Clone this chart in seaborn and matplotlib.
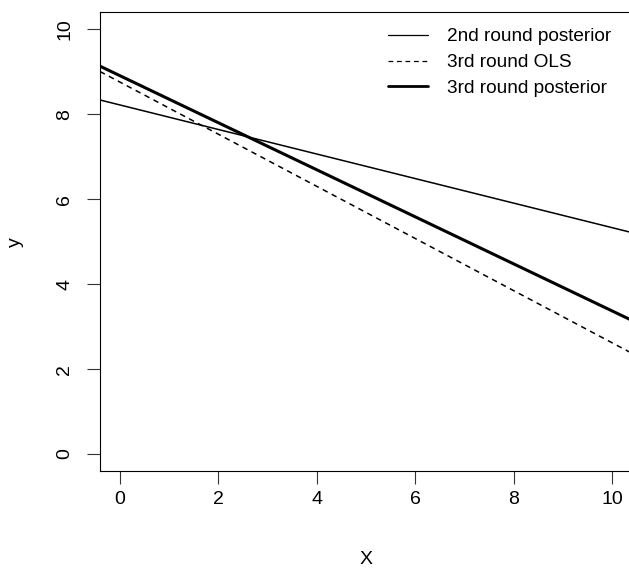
import matplotlib
matplotlib.use("Agg")
import matplotlib.pyplot as plt
import seaborn as sns
import numpy as np
import pandas as pd
from matplotlib.lines import Line2D

# Fitted regression lines: y = intercept + slope * x
labels = ["2nd round posterior", "3rd round OLS", "3rd round posterior"]
intercepts = [8.22, 8.76, 8.91]
slopes = [-0.289, -0.614, -0.554]

x_ticks = [0, 2, 4, 6, 8, 10]
y_ticks = [0, 2, 4, 6, 8, 10]
x_lim = (-0.4, 10.4)
y_lim = (-0.4, 10.4)

sns.set_style("ticks")
plt.rcParams["font.family"] = ["Liberation Sans", "DejaVu Sans"]
plt.rcParams["font.size"] = 13.7
plt.rcParams["text.color"] = "black"
plt.rcParams["axes.labelcolor"] = "black"
plt.rcParams["xtick.color"] = "black"
plt.rcParams["ytick.color"] = "black"

rows = []
for lab, a, b in zip(labels, intercepts, slopes):
    for xv in x_lim:
        rows.append({"X": xv, "y": a + b * xv, "line": lab})
df = pd.DataFrame(rows)

W, H = 629, 569
fig = plt.figure(figsize=(W / 100, H / 100), dpi=100)
left, right, top, bottom = 100, 631.7, 12.3, 471
ax = fig.add_axes([left / W, 1 - bottom / H, (right - left) / W, (bottom - top) / H])

sns.lineplot(
    data=df, x="X", y="y", hue="line", style="line",
    hue_order=labels, style_order=labels,
    palette=["black", "black", "black"],
    dashes={labels[0]: "", labels[1]: (3.6, 3.0), labels[2]: ""},
    ax=ax, legend=False,
)
widths = [1.1, 1.1, 2.2]
for ln, w in zip(ax.get_lines(), widths):
    ln.set_linewidth(w)

ax.set_xlim(*x_lim)
ax.set_ylim(*y_lim)
ax.set_xticks(x_ticks)
ax.set_yticks(y_ticks)
ax.set_xticklabels([str(v) for v in x_ticks])
ax.set_yticklabels([str(v) for v in y_ticks], rotation=90, va="center")

for s in ax.spines.values():
    s.set_visible(True)
    s.set_color("black")
    s.set_linewidth(0.8)

ax.tick_params(axis="both", direction="out", length=9.4, width=0.8,
               color="#333333", labelcolor="black", labelsize=14)
ax.tick_params(axis="x", pad=5)
ax.tick_params(axis="y", pad=10)

ax.set_xlabel("X", fontsize=14, va="center", color="black")
ax.set_ylabel("y", fontsize=14, va="center", ha="center", color="black")
ax.xaxis.set_label_coords(0.5, -(560 - bottom) / (bottom - top))
ax.yaxis.set_label_coords(-(left - 15) / (right - left), 0.5)

handles = [
    Line2D([], [], color="black", lw=0.9),
    Line2D([], [], color="black", lw=0.9, dashes=(3.8, 3.0)),
    Line2D([], [], color="black", lw=2.0),
]
leg = fig.legend(handles, labels, loc="upper left",
                 bbox_to_anchor=(388 / W, 1 - 28 / H),
                 frameon=False, borderpad=0, borderaxespad=0,
                 handlelength=2.1, handletextpad=1.0, labelspacing=0.45,
                 fontsize=13.7)
for t in leg.get_texts():
    t.set_color("black")

fig.savefig("out.png", dpi=100)
